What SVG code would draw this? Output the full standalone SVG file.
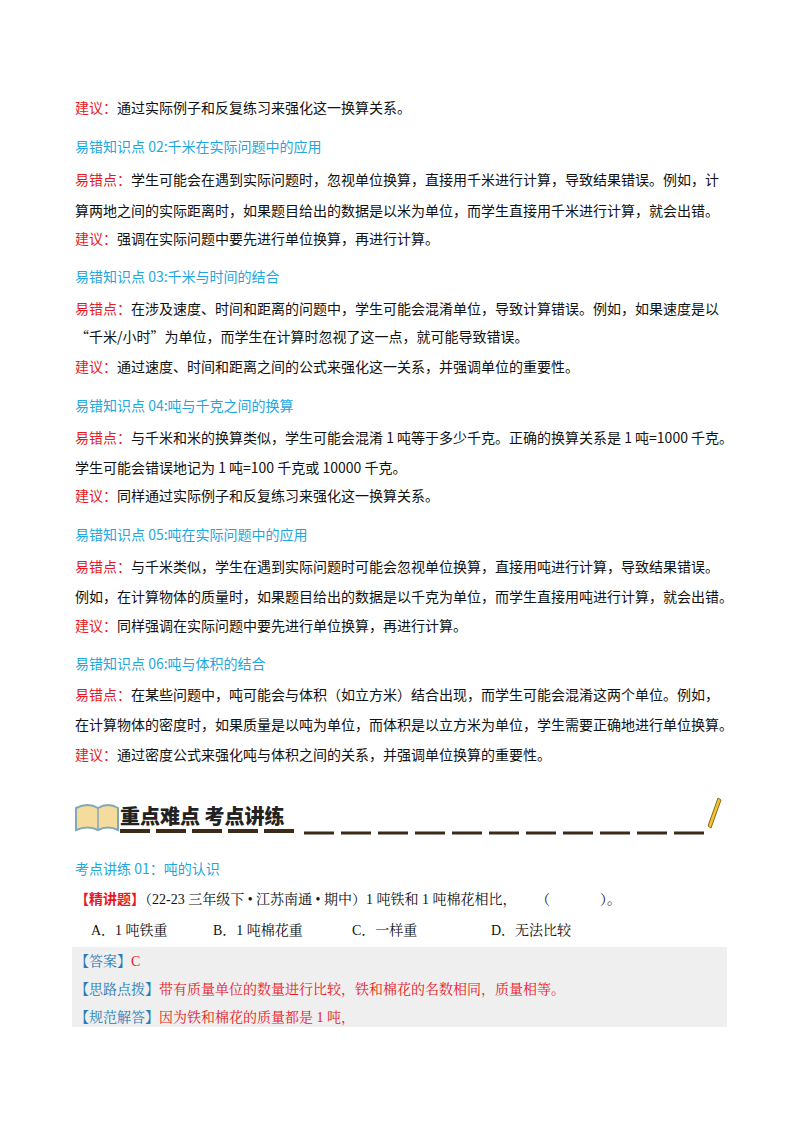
<svg xmlns="http://www.w3.org/2000/svg" width="800" height="1132" viewBox="0 0 800 1132">
<style>
text{font-family:"Noto Sans CJK SC","Noto Sans",sans-serif;font-size:14px;fill:#111}
.r{fill:#e8191e}.b{fill:#1fa7e0}.s{font-family:"Liberation Serif","Noto Serif CJK SC","Noto Sans CJK SC",serif}
.bl{fill:#2a7ab8}.rr{fill:#e8191e}
</style>
<rect width="800" height="1132" fill="#fff"/>
<g id="body">
<text x="75" y="113"><tspan class="r">建议：</tspan>通过实际例子和反复练习来强化这一换算关系。</text>
<text x="75" y="152" class="b">易错知识点 02:千米在实际问题中的应用</text>
<text x="75" y="185"><tspan class="r">易错点：</tspan>学生可能会在遇到实际问题时，忽视单位换算，直接用千米进行计算，导致结果错误。例如，计</text>
<text x="75" y="216">算两地之间的实际距离时，如果题目给出的数据是以米为单位，而学生直接用千米进行计算，就会出错。</text>
<text x="75" y="244"><tspan class="r">建议：</tspan>强调在实际问题中要先进行单位换算，再进行计算。</text>
<text x="75" y="282" class="b">易错知识点 03:千米与时间的结合</text>
<text x="75" y="314"><tspan class="r">易错点：</tspan>在涉及速度、时间和距离的问题中，学生可能会混淆单位，导致计算错误。例如，如果速度是以</text>
<text x="75" y="342">“千米/小时”为单位，而学生在计算时忽视了这一点，就可能导致错误。</text>
<text x="75" y="372"><tspan class="r">建议：</tspan>通过速度、时间和距离之间的公式来强化这一关系，并强调单位的重要性。</text>
<text x="75" y="411" class="b">易错知识点 04:吨与千克之间的换算</text>
<text x="75" y="443"><tspan class="r">易错点：</tspan>与千米和米的换算类似，学生可能会混淆 1 吨等于多少千克。正确的换算关系是 1 吨=1000 千克。</text>
<text x="75" y="473">学生可能会错误地记为 1 吨=100 千克或 10000 千克。</text>
<text x="75" y="501"><tspan class="r">建议：</tspan>同样通过实际例子和反复练习来强化这一换算关系。</text>
<text x="75" y="540" class="b">易错知识点 05:吨在实际问题中的应用</text>
<text x="75" y="572"><tspan class="r">易错点：</tspan>与千米类似，学生在遇到实际问题时可能会忽视单位换算，直接用吨进行计算，导致结果错误。</text>
<text x="75" y="602">例如，在计算物体的质量时，如果题目给出的数据是以千克为单位，而学生直接用吨进行计算，就会出错。</text>
<text x="75" y="631"><tspan class="r">建议：</tspan>同样强调在实际问题中要先进行单位换算，再进行计算。</text>
<text x="75" y="669" class="b">易错知识点 06:吨与体积的结合</text>
<text x="75" y="700"><tspan class="r">易错点：</tspan>在某些问题中，吨可能会与体积（如立方米）结合出现，而学生可能会混淆这两个单位。例如，</text>
<text x="75" y="730">在计算物体的密度时，如果质量是以吨为单位，而体积是以立方米为单位，学生需要正确地进行单位换算。</text>
<text x="75" y="760"><tspan class="r">建议：</tspan>通过密度公式来强化吨与体积之间的关系，并强调单位换算的重要性。</text>
</g>
<g id="banner">
<path d="M76 808 Q88 802 98 808 Q108 802 118 808 L118 830 Q108 825 98 830 Q88 825 76 830 Z" fill="#f6dc9c" stroke="#7fa9b8" stroke-width="2"/>
<line x1="98" y1="808" x2="98" y2="830" stroke="#7fa9b8" stroke-width="1.5"/>
<text x="120" y="824" style="font-size:20px;font-weight:900;fill:#222">重点难点 考点讲练</text>
<path d="M120 831 H300" stroke="#3d2b1a" stroke-width="4" stroke-dasharray="30,6"/>
<path d="M304 833 H705" stroke="#3d2b1a" stroke-width="3" stroke-dasharray="30,7"/>
<path d="M718 798 L708 826 L711 828 L721 800 Z" fill="#f2c230" stroke="#8a6a20" stroke-width="1"/>
</g>
<g id="question">
<text x="75" y="874" class="b">考点讲练 01：吨的认识</text>
<text x="75" y="904"><tspan class="r" style="font-weight:bold">【精讲题】</tspan><tspan class="s">（22-23 三年级下 • 江苏南通 • 期中）1 吨铁和 1 吨棉花相比，</tspan></text>
<text x="536" y="904" class="s">（</text>
<text x="600" y="904" class="s">）。</text>
<text x="91" y="935" class="s">A．1 吨铁重</text>
<text x="213" y="935" class="s">B．1 吨棉花重</text>
<text x="352" y="935" class="s">C．一样重</text>
<text x="491" y="935" class="s">D．无法比较</text>
<rect x="72" y="947" width="655" height="80" fill="#efefef"/>
<text x="75" y="966" class="s"><tspan class="bl">【答案】</tspan><tspan class="rr">C</tspan></text>
<text x="75" y="994" class="s"><tspan class="bl">【思路点拨】</tspan><tspan class="rr">带有质量单位的数量进行比较，铁和棉花的名数相同，质量相等。</tspan></text>
<text x="75" y="1022" class="s"><tspan class="bl">【规范解答】</tspan><tspan class="rr">因为铁和棉花的质量都是 1 吨，</tspan></text>
</g>
</svg>
